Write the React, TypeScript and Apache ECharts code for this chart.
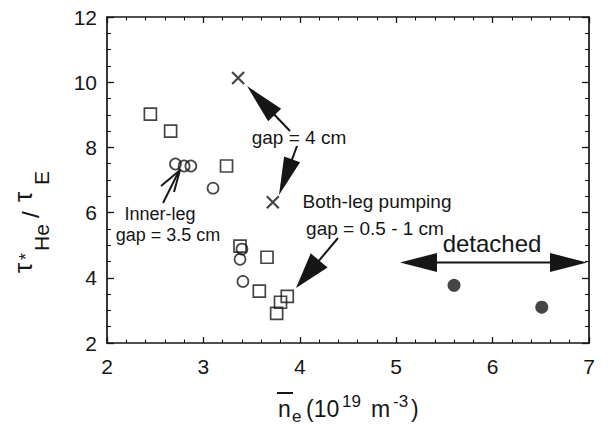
import React, { useEffect, useRef } from "react";
import * as echarts from "echarts";

// Open squares
const squareX = [2.45, 2.66, 3.24, 3.38, 3.66, 3.58, 3.76, 3.80, 3.87];
const squareY = [9.02, 8.50, 7.43, 4.97, 4.63, 3.59, 2.91, 3.25, 3.43];
// Open circles (inner-leg, gap = 3.5 cm)
const circleX = [2.71, 2.80, 2.87, 3.10, 3.40, 3.38, 3.41];
const circleY = [7.49, 7.43, 7.43, 6.75, 4.88, 4.57, 3.89];
// Crosses (gap = 4 cm)
const crossX = [3.36, 3.72];
const crossY = [10.13, 6.32];
// Filled circles (detached)
const dotX = [5.60, 6.51];
const dotY = [3.77, 3.10];

const xTicks = [2, 3, 4, 5, 6, 7];
const yTicks = [2, 4, 6, 8, 10, 12];

const FONT = "'Liberation Sans', Arial, Helvetica, sans-serif";
const INK = "#161616";

function zip(xs: number[], ys: number[]) {
  return xs.map((x, i) => [x, ys[i]]);
}

function arrow(tail: number[], tip: number[], headLen: number, headW: number, lw = 2) {
  const dx = tip[0] - tail[0];
  const dy = tip[1] - tail[1];
  const L = Math.sqrt(dx * dx + dy * dy);
  const ux = dx / L;
  const uy = dy / L;
  const bx = tip[0] - ux * headLen;
  const by = tip[1] - uy * headLen;
  const px = -uy;
  const py = ux;
  return [
    {
      type: "line",
      shape: { x1: tail[0], y1: tail[1], x2: bx + ux * 2, y2: by + uy * 2 },
      style: { stroke: INK, lineWidth: lw },
      silent: true,
    },
    {
      type: "polygon",
      shape: {
        points: [
          [tip[0], tip[1]],
          [bx + (px * headW) / 2, by + (py * headW) / 2],
          [bx - (px * headW) / 2, by - (py * headW) / 2],
        ],
      },
      style: { fill: INK },
      silent: true,
    },
  ];
}

function txt(text: string, x: number, y: number, size: number, align = "center", extra: any = {}) {
  return {
    type: "text",
    x,
    y,
    style: {
      text,
      fill: INK,
      font: `${size}px ${FONT}`,
      align,
      verticalAlign: "middle",
    },
    silent: true,
    ...extra,
  };
}

export default function App() {
  const ref = useRef<HTMLDivElement>(null);
  useEffect(() => {
    if (!ref.current) return;
    const chart = echarts.init(ref.current, null, { renderer: "svg" });

    const axisCommon = {
      type: "value",
      axisLine: { show: true, lineStyle: { color: INK, width: 1.7 } },
      splitLine: { show: false },
    };

    const graphics: any[] = [
      // annotations
      txt("gap = 4 cm", 299, 137, 19),
      txt("Both-leg pumping", 377, 201, 19),
      txt("gap = 0.5 - 1 cm", 375, 228, 19),
      txt("Inner-leg", 160, 214, 18),
      txt("gap = 3.5 cm", 168, 235, 18),
      txt("detached", 492, 243, 24),
      ...arrow([290, 131], [247, 86], 40, 18),
      ...arrow([297, 146], [279, 195], 38, 17),
      ...arrow([338, 238], [296, 288], 36, 22),
      ...arrow([494, 262.5], [400, 262.5], 37, 19),
      ...arrow([494, 262.5], [587, 262.5], 37, 19),
      {
        type: "line",
        shape: { x1: 163, y1: 203, x2: 180, y2: 169 },
        style: { stroke: INK, lineWidth: 2 },
        silent: true,
      },
      {
        type: "line",
        shape: { x1: 161, y1: 186, x2: 179, y2: 171 },
        style: { stroke: INK, lineWidth: 2 },
        silent: true,
      },
      {
        type: "line",
        shape: { x1: 174, y1: 192, x2: 180, y2: 170 },
        style: { stroke: INK, lineWidth: 2 },
        silent: true,
      },
      // x-axis title: n̄e (10^19 m^-3)
      {
        type: "line",
        shape: { x1: 277, y1: 393, x2: 293, y2: 393 },
        style: { stroke: INK, lineWidth: 2 },
        silent: true,
      },
      txt("n", 278, 409, 23, "left"),
      txt("e", 292, 416, 17, "left"),
      txt("(10", 306, 409, 23, "left"),
      txt("19", 342, 401, 17, "left"),
      txt("m", 371, 409, 23, "left"),
      txt("-3", 393, 401, 17, "left"),
      txt(")", 411, 409, 23, "left"),
      // y-axis title: τ*He / τE (rotated)
      {
        type: "group",
        x: 0,
        y: 273,
        rotation: Math.PI / 2,
        silent: true,
        children: [
          txt("τ", 0, 23, 26, "left"),
          txt("*", 13, 26, 18, "left"),
          txt("He", 22, 41, 21, "left"),
          txt("/", 55, 30, 24, "left"),
          txt("τ", 71, 23, 26, "left"),
          txt("E", 88, 41, 21, "left"),
        ],
      },
    ];

    const tickStyle = { show: true, inside: true, lineStyle: { color: INK, width: 1.3 } };
    const minorStyle = { show: true, lineStyle: { color: INK, width: 1.1 } };

    chart.setOption({
      animation: false,
      backgroundColor: "#ffffff",
      grid: { left: 107, right: 19, top: 17, bottom: 85, containLabel: false },
      xAxis: [
        {
          ...axisCommon,
          position: "bottom",
          min: xTicks[0],
          max: xTicks[xTicks.length - 1],
          interval: 1,
          axisTick: { ...tickStyle, length: 6 },
          minorTick: { ...minorStyle, splitNumber: 5, length: 3.5 },
          axisLabel: { show: true, margin: 13, color: INK, fontSize: 21, fontFamily: FONT },
        },
        {
          ...axisCommon,
          position: "top",
          min: xTicks[0],
          max: xTicks[xTicks.length - 1],
          interval: 1,
          axisTick: { ...tickStyle, length: 6 },
          minorTick: { ...minorStyle, splitNumber: 5, length: 3.5 },
          axisLabel: { show: false },
        },
      ],
      yAxis: [
        {
          ...axisCommon,
          position: "left",
          min: yTicks[0],
          max: yTicks[yTicks.length - 1],
          interval: 2,
          axisTick: { ...tickStyle, length: 7 },
          minorTick: { ...minorStyle, splitNumber: 4, length: 4 },
          axisLabel: { show: true, margin: 10, color: INK, fontSize: 21, fontFamily: FONT },
        },
        {
          ...axisCommon,
          position: "right",
          min: yTicks[0],
          max: yTicks[yTicks.length - 1],
          interval: 2,
          axisTick: { ...tickStyle, length: 7 },
          minorTick: { ...minorStyle, splitNumber: 4, length: 4 },
          axisLabel: { show: false },
        },
      ],
      series: [
        {
          type: "scatter",
          name: "squares",
          data: zip(squareX, squareY),
          symbol: "rect",
          symbolSize: 12,
          itemStyle: { color: "rgba(0,0,0,0)", borderColor: INK, borderWidth: 1.7 },
        },
        {
          type: "scatter",
          name: "circles",
          data: zip(circleX, circleY),
          symbol: "circle",
          symbolSize: 11,
          itemStyle: { color: "rgba(0,0,0,0)", borderColor: INK, borderWidth: 1.7 },
        },
        {
          type: "scatter",
          name: "crosses",
          data: zip(crossX, crossY),
          symbol: "path://M0,0L10,10M10,0L0,10",
          symbolSize: 12,
          itemStyle: { color: "none", borderColor: INK, borderWidth: 2.2 },
        },
        {
          type: "scatter",
          name: "dots",
          data: zip(dotX, dotY),
          symbol: "circle",
          symbolSize: 13,
          itemStyle: { color: INK },
        },
      ],
      graphic: graphics,
    });

    return () => chart.dispose();
  }, []);

  return (
    <div
      ref={ref}
      style={{ position: "fixed", left: 0, top: 0, width: 608, height: 428, background: "#fff" }}
    />
  );
}
